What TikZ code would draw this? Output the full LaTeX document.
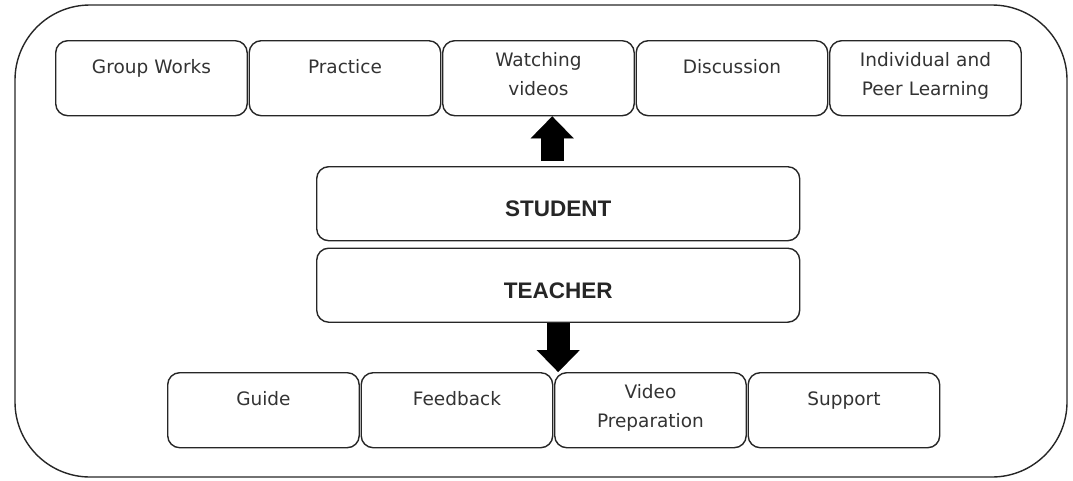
\documentclass[tikz,border=0pt]{standalone}
\usepackage{fontspec}
\setmainfont{DejaVu Sans}
\newfontfamily\headfont{Liberation Sans}
\usepackage{tikz}
\usetikzlibrary{arrows.meta}
\newcommand{\cellwidth}{191.5pt}

\begin{document}
\begin{tikzpicture}[x=1pt,y=-1pt,
	cell/.style={draw=black!85, line width=1.4pt, rounded corners=12pt,
		anchor=north west, minimum width=\cellwidth, minimum height=75pt,
		inner xsep=0pt, inner ysep=0pt, text width=184pt, align=center,
		text height=33pt, text depth=42pt, text=black!80,
		font=\fontsize{18.5}{28.5}\selectfont},
	twoline/.style={text height=26pt, text depth=49pt},
	role/.style={draw=black!85, line width=1.4pt, rounded corners=12pt,
		anchor=north west, minimum width=483pt, minimum height=74pt,
		inner ysep=0pt, text height=50pt, text depth=24pt, text=black!85,
		font=\headfont\bfseries\fontsize{22.5}{26}\selectfont},
	bigarrow/.style={line width=23pt, black,
		-{Triangle[width=43pt,length=22pt,line width=0.01pt]}}]
	\useasboundingbox (0,0) rectangle (1073,480);
	\draw[black!85, line width=1.4pt, rounded corners=75pt] (15,5) rectangle (1067,477);

	% what the student does
	\node[cell] (gw) at (55,40) {Group Works};
	\node[cell] (pr) at (248.5,40) {Practice};
	\node[cell, twoline] (wv) at (442,40) {Watching\\videos};
	\node[cell] (di) at (635.5,40) {Discussion};
	\node[cell, twoline] (ip) at (829,40) {Individual and\\Peer Learning};

	\node[role] (stu) at (316,166) {STUDENT};
	\node[role] (tea) at (316,247.5) {TEACHER};

	% what the teacher does
	\node[cell] (gu) at (167,372) {Guide};
	\node[cell] (fb) at (360.5,372) {Feedback};
	\node[cell, twoline] (vp) at (554,372) {Video\\Preparation};
	\node[cell] (su) at (747.5,372) {Support};

	\draw[bigarrow, shorten <=5pt] ([xshift=-6pt]stu.north) -- ([xshift=-6pt]stu.north |- wv.south);
	\draw[bigarrow] (tea.south) -- (tea.south |- vp.north);
\end{tikzpicture}
\end{document}
